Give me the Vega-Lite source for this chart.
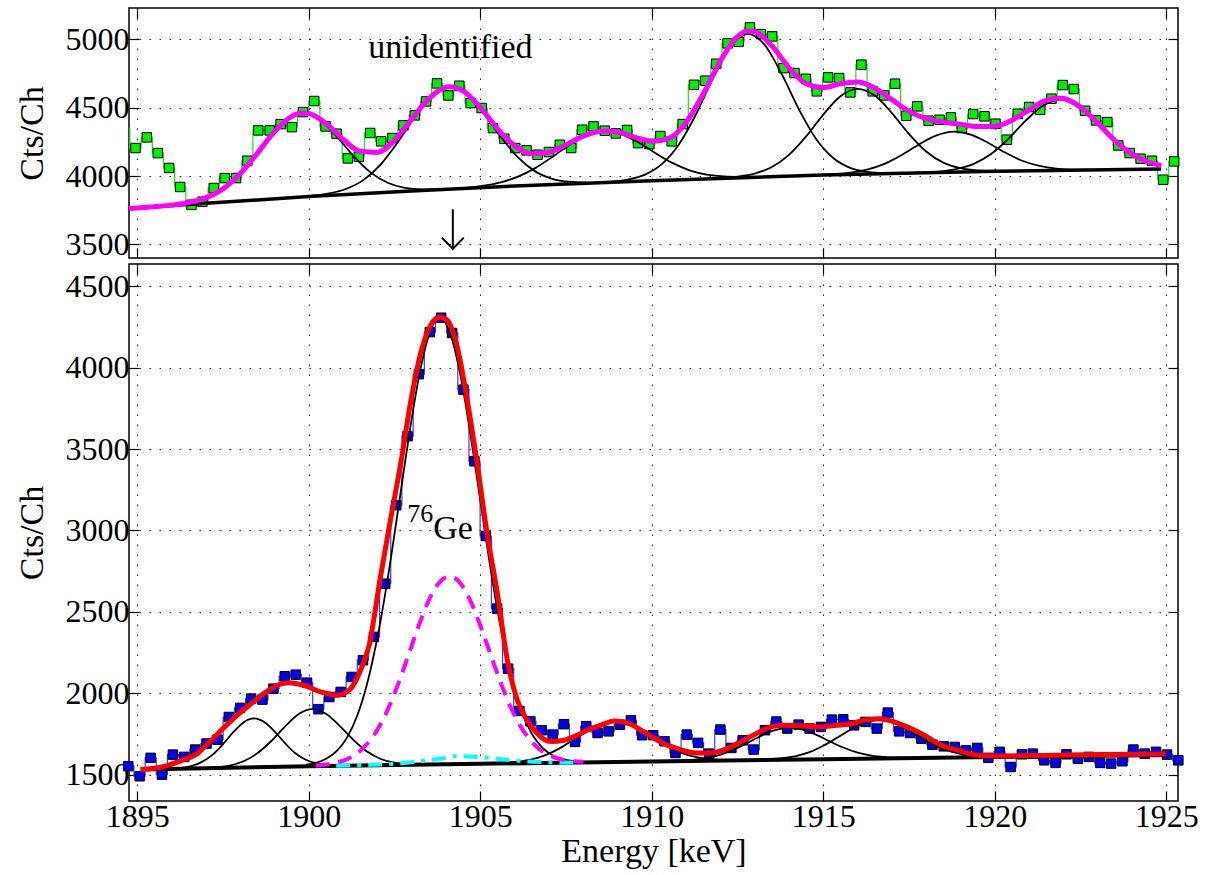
{
"$schema": "https://vega.github.io/schema/vega-lite/v6.json",
"background": "white",
"padding": {"left": 14, "top": 6, "right": 5, "bottom": 0},
"spacing": 0,
"datasets": {
"topPts": [
{"E":1894.62,"c":4350},{"E":1894.95,"c":4205},{"E":1895.28,"c":4283},{"E":1895.60,"c":4168},{"E":1895.93,"c":4059},{"E":1896.25,"c":3920},{"E":1896.58,"c":3790},{"E":1896.90,"c":3812},{"E":1897.23,"c":3912},{"E":1897.55,"c":3985},{"E":1897.88,"c":3985},{"E":1898.21,"c":4112},{"E":1898.53,"c":4334},{"E":1898.86,"c":4334},{"E":1899.18,"c":4380},{"E":1899.51,"c":4358},{"E":1899.83,"c":4468},{"E":1900.16,"c":4549},{"E":1900.49,"c":4363},{"E":1900.81,"c":4310},{"E":1901.14,"c":4129},{"E":1901.46,"c":4141},{"E":1901.79,"c":4315},{"E":1902.11,"c":4254},{"E":1902.44,"c":4278},{"E":1902.76,"c":4371},{"E":1903.09,"c":4444},{"E":1903.42,"c":4546},{"E":1903.74,"c":4678},{"E":1904.07,"c":4590},{"E":1904.39,"c":4661},{"E":1904.72,"c":4534},{"E":1905.04,"c":4498},{"E":1905.37,"c":4351},{"E":1905.70,"c":4273},{"E":1906.02,"c":4205},{"E":1906.35,"c":4188},{"E":1906.67,"c":4156},{"E":1907.00,"c":4176},{"E":1907.32,"c":4229},{"E":1907.65,"c":4205},{"E":1907.97,"c":4339},{"E":1908.30,"c":4363},{"E":1908.63,"c":4332},{"E":1908.95,"c":4312},{"E":1909.28,"c":4337},{"E":1909.60,"c":4241},{"E":1909.93,"c":4234},{"E":1910.25,"c":4293},{"E":1910.58,"c":4254},{"E":1910.90,"c":4380},{"E":1911.23,"c":4668},{"E":1911.56,"c":4698},{"E":1911.88,"c":4822},{"E":1912.21,"c":4971},{"E":1912.53,"c":4983},{"E":1912.86,"c":5088},{"E":1913.18,"c":5039},{"E":1913.51,"c":5022},{"E":1913.84,"c":4790},{"E":1914.16,"c":4754},{"E":1914.49,"c":4712},{"E":1914.81,"c":4620},{"E":1915.14,"c":4722},{"E":1915.46,"c":4717},{"E":1915.79,"c":4612},{"E":1916.11,"c":4815},{"E":1916.44,"c":4620},{"E":1916.77,"c":4590},{"E":1917.09,"c":4676},{"E":1917.42,"c":4441},{"E":1917.74,"c":4510},{"E":1918.07,"c":4405},{"E":1918.39,"c":4412},{"E":1918.72,"c":4429},{"E":1919.04,"c":4351},{"E":1919.37,"c":4454},{"E":1919.70,"c":4437},{"E":1920.02,"c":4383},{"E":1920.35,"c":4266},{"E":1920.67,"c":4456},{"E":1921.00,"c":4505},{"E":1921.32,"c":4485},{"E":1921.65,"c":4566},{"E":1921.98,"c":4666},{"E":1922.30,"c":4637},{"E":1922.63,"c":4478},{"E":1922.95,"c":4407},{"E":1923.28,"c":4395},{"E":1923.60,"c":4224},{"E":1923.93,"c":4168},{"E":1924.25,"c":4127},{"E":1924.58,"c":4112},{"E":1924.91,"c":3973},{"E":1925.23,"c":4107}
],
"topBase": [{"E":1894.76,"v":3762},{"E":1897,"v":3800},{"E":1900,"v":3850},{"E":1903,"v":3890},{"E":1906,"v":3927},{"E":1910,"v":3966},{"E":1915,"v":4008},{"E":1920,"v":4035},{"E":1924.85,"v":4052}],
"topFit": [
{"E":1894.76,"v":3762},{"E":1895.0,"v":3766},{"E":1895.5,"v":3776},{"E":1896.0,"v":3787},{"E":1896.5,"v":3806},{"E":1897.0,"v":3840},{"E":1897.5,"v":3906},{"E":1898.0,"v":4016},{"E":1898.5,"v":4166},{"E":1899.0,"v":4324},{"E":1899.5,"v":4437},{"E":1899.8,"v":4462},{"E":1900.0,"v":4458},{"E":1900.5,"v":4386},{"E":1901.0,"v":4270},{"E":1901.5,"v":4181},{"E":1902.0,"v":4173},{"E":1902.5,"v":4262},{"E":1903.0,"v":4416},{"E":1903.5,"v":4567},{"E":1904.0,"v":4650},{"E":1904.1,"v":4654},{"E":1904.5,"v":4623},{"E":1905.0,"v":4503},{"E":1905.5,"v":4347},{"E":1906.0,"v":4222},{"E":1906.5,"v":4163},{"E":1907.0,"v":4174},{"E":1907.5,"v":4229},{"E":1908.0,"v":4292},{"E":1908.5,"v":4328},{"E":1908.6,"v":4330},{"E":1909.0,"v":4322},{"E":1909.5,"v":4285},{"E":1910.0,"v":4254},{"E":1910.5,"v":4276},{"E":1911.0,"v":4392},{"E":1911.5,"v":4601},{"E":1912.0,"v":4842},{"E":1912.5,"v":5020},{"E":1912.8,"v":5061},{"E":1913.0,"v":5056},{"E":1913.5,"v":4953},{"E":1914.0,"v":4792},{"E":1914.5,"v":4676},{"E":1915.0,"v":4648},{"E":1915.5,"v":4675},{"E":1916.0,"v":4688},{"E":1916.5,"v":4645},{"E":1917.0,"v":4559},{"E":1917.5,"v":4473},{"E":1918.0,"v":4421},{"E":1918.5,"v":4395},{"E":1919.0,"v":4378},{"E":1919.5,"v":4362},{"E":1920.0,"v":4365},{"E":1920.5,"v":4409},{"E":1921.0,"v":4485},{"E":1921.5,"v":4554},{"E":1921.9,"v":4570},{"E":1922.0,"v":4567},{"E":1922.5,"v":4504},{"E":1923.0,"v":4387},{"E":1923.5,"v":4260},{"E":1924.0,"v":4161},{"E":1924.5,"v":4101},{"E":1924.85,"v":4077}
],
"topComp": [
{"k":"G1","E":1895.8,"v":3782},{"k":"G1","E":1896.3,"v":3797},{"k":"G1","E":1896.8,"v":3824},{"k":"G1","E":1897.3,"v":3875},{"k":"G1","E":1897.8,"v":3966},{"k":"G1","E":1898.3,"v":4103},{"k":"G1","E":1898.8,"v":4263},{"k":"G1","E":1899.3,"v":4400},{"k":"G1","E":1899.8,"v":4460},{"k":"G1","E":1900.3,"v":4416},{"k":"G1","E":1900.8,"v":4294},{"k":"G1","E":1901.3,"v":4148},{"k":"G1","E":1901.8,"v":4027},{"k":"G1","E":1902.3,"v":3951},{"k":"G1","E":1902.8,"v":3914},{"k":"G1","E":1903.3,"v":3903},{"k":"G1","E":1903.8,"v":3902},
{"k":"G2","E":1900.1,"v":3856},{"k":"G2","E":1900.6,"v":3873},{"k":"G2","E":1901.1,"v":3907},{"k":"G2","E":1901.6,"v":3972},{"k":"G2","E":1902.1,"v":4086},{"k":"G2","E":1902.6,"v":4249},{"k":"G2","E":1903.1,"v":4434},{"k":"G2","E":1903.6,"v":4587},{"k":"G2","E":1904.1,"v":4651},{"k":"G2","E":1904.6,"v":4599},{"k":"G2","E":1905.1,"v":4459},{"k":"G2","E":1905.6,"v":4286},{"k":"G2","E":1906.1,"v":4136},{"k":"G2","E":1906.6,"v":4034},{"k":"G2","E":1907.1,"v":3980},{"k":"G2","E":1907.6,"v":3958},{"k":"G2","E":1908.1,"v":3952},
{"k":"G3","E":1904.6,"v":3914},{"k":"G3","E":1905.1,"v":3929},{"k":"G3","E":1905.6,"v":3954},{"k":"G3","E":1906.1,"v":3996},{"k":"G3","E":1906.6,"v":4058},{"k":"G3","E":1907.1,"v":4140},{"k":"G3","E":1907.6,"v":4228},{"k":"G3","E":1908.1,"v":4297},{"k":"G3","E":1908.6,"v":4327},{"k":"G3","E":1909.1,"v":4307},{"k":"G3","E":1909.6,"v":4247},{"k":"G3","E":1910.1,"v":4169},{"k":"G3","E":1910.6,"v":4096},{"k":"G3","E":1911.1,"v":4042},{"k":"G3","E":1911.6,"v":4011},{"k":"G3","E":1912.1,"v":3997},{"k":"G3","E":1912.6,"v":3993},
{"k":"G4","E":1908.8,"v":3958},{"k":"G4","E":1909.3,"v":3974},{"k":"G4","E":1909.8,"v":4010},{"k":"G4","E":1910.3,"v":4089},{"k":"G4","E":1910.8,"v":4235},{"k":"G4","E":1911.3,"v":4458},{"k":"G4","E":1911.8,"v":4724},{"k":"G4","E":1912.3,"v":4949},{"k":"G4","E":1912.8,"v":5040},{"k":"G4","E":1913.3,"v":4957},{"k":"G4","E":1913.8,"v":4740},{"k":"G4","E":1914.3,"v":4483},{"k":"G4","E":1914.8,"v":4268},{"k":"G4","E":1915.3,"v":4130},{"k":"G4","E":1915.8,"v":4058},{"k":"G4","E":1916.3,"v":4030},{"k":"G4","E":1916.8,"v":4021},
{"k":"G5","E":1912.0,"v":3985},{"k":"G5","E":1912.5,"v":3996},{"k":"G5","E":1913.0,"v":4018},{"k":"G5","E":1913.5,"v":4066},{"k":"G5","E":1914.0,"v":4155},{"k":"G5","E":1914.5,"v":4290},{"k":"G5","E":1915.0,"v":4450},{"k":"G5","E":1915.5,"v":4584},{"k":"G5","E":1916.0,"v":4638},{"k":"G5","E":1916.5,"v":4589},{"k":"G5","E":1917.0,"v":4461},{"k":"G5","E":1917.5,"v":4307},{"k":"G5","E":1918.0,"v":4180},{"k":"G5","E":1918.5,"v":4098},{"k":"G5","E":1919.0,"v":4057},{"k":"G5","E":1919.5,"v":4041},{"k":"G5","E":1920.0,"v":4037},
{"k":"G6","E":1914.8,"v":4007},{"k":"G6","E":1915.3,"v":4014},{"k":"G6","E":1915.8,"v":4025},{"k":"G6","E":1916.3,"v":4049},{"k":"G6","E":1916.8,"v":4091},{"k":"G6","E":1917.3,"v":4156},{"k":"G6","E":1917.8,"v":4233},{"k":"G6","E":1918.3,"v":4297},{"k":"G6","E":1918.8,"v":4325},{"k":"G6","E":1919.3,"v":4303},{"k":"G6","E":1919.8,"v":4244},{"k":"G6","E":1920.3,"v":4172},{"k":"G6","E":1920.8,"v":4112},{"k":"G6","E":1921.3,"v":4074},{"k":"G6","E":1921.8,"v":4054},{"k":"G6","E":1922.3,"v":4047},{"k":"G6","E":1922.8,"v":4046},
{"k":"G7","E":1917.9,"v":4025},{"k":"G7","E":1918.4,"v":4033},{"k":"G7","E":1918.9,"v":4052},{"k":"G7","E":1919.4,"v":4091},{"k":"G7","E":1919.9,"v":4163},{"k":"G7","E":1920.4,"v":4273},{"k":"G7","E":1920.9,"v":4405},{"k":"G7","E":1921.4,"v":4515},{"k":"G7","E":1921.9,"v":4560},{"k":"G7","E":1922.4,"v":4519},{"k":"G7","E":1922.9,"v":4411},{"k":"G7","E":1923.4,"v":4284},{"k":"G7","E":1923.9,"v":4178},{"k":"G7","E":1924.4,"v":4109},{"k":"G7","E":1924.85,"v":4077}
],
"arrow": [{"p":"s","o":1,"E":1904.2,"v":3756},{"p":"s","o":2,"E":1904.2,"v":3470},{"p":"h","o":1,"E":1903.88,"v":3549},{"p":"h","o":2,"E":1904.2,"v":3468},{"p":"h","o":3,"E":1904.52,"v":3549}],
"botPts": [
{"E":1894.74,"c":1552},{"E":1895.07,"c":1490},{"E":1895.39,"c":1603},{"E":1895.72,"c":1500},{"E":1896.04,"c":1623},{"E":1896.37,"c":1609},{"E":1896.69,"c":1654},{"E":1897.02,"c":1691},{"E":1897.34,"c":1715},{"E":1897.67,"c":1854},{"E":1898.00,"c":1910},{"E":1898.32,"c":1967},{"E":1898.65,"c":1961},{"E":1898.97,"c":2028},{"E":1899.30,"c":2104},{"E":1899.62,"c":2114},{"E":1899.95,"c":2065},{"E":1900.28,"c":1902},{"E":1900.60,"c":1977},{"E":1900.93,"c":2008},{"E":1901.25,"c":2100},{"E":1901.58,"c":2203},{"E":1901.90,"c":2346},{"E":1902.23,"c":2673},{"E":1902.55,"c":3155},{"E":1902.88,"c":3579},{"E":1903.21,"c":3960},{"E":1903.53,"c":4219},{"E":1903.86,"c":4307},{"E":1904.18,"c":4213},{"E":1904.51,"c":3865},{"E":1904.83,"c":3425},{"E":1905.16,"c":2966},{"E":1905.49,"c":2520},{"E":1905.81,"c":2151},{"E":1906.14,"c":1891},{"E":1906.46,"c":1828},{"E":1906.79,"c":1773},{"E":1907.11,"c":1746},{"E":1907.44,"c":1810},{"E":1907.76,"c":1701},{"E":1908.09,"c":1797},{"E":1908.42,"c":1756},{"E":1908.74,"c":1766},{"E":1909.07,"c":1807},{"E":1909.39,"c":1834},{"E":1909.72,"c":1742},{"E":1910.04,"c":1742},{"E":1910.37,"c":1705},{"E":1910.69,"c":1633},{"E":1911.02,"c":1746},{"E":1911.35,"c":1695},{"E":1911.67,"c":1629},{"E":1912.00,"c":1777},{"E":1912.32,"c":1664},{"E":1912.65,"c":1711},{"E":1912.97,"c":1654},{"E":1913.30,"c":1773},{"E":1913.63,"c":1826},{"E":1913.95,"c":1783},{"E":1914.28,"c":1807},{"E":1914.60,"c":1783},{"E":1914.93,"c":1793},{"E":1915.25,"c":1838},{"E":1915.58,"c":1840},{"E":1915.90,"c":1803},{"E":1916.23,"c":1824},{"E":1916.56,"c":1783},{"E":1916.88,"c":1881},{"E":1917.21,"c":1766},{"E":1917.53,"c":1756},{"E":1917.86,"c":1721},{"E":1918.18,"c":1684},{"E":1918.51,"c":1674},{"E":1918.83,"c":1670},{"E":1919.16,"c":1650},{"E":1919.49,"c":1664},{"E":1919.81,"c":1603},{"E":1920.14,"c":1640},{"E":1920.46,"c":1547},{"E":1920.79,"c":1625},{"E":1921.11,"c":1629},{"E":1921.44,"c":1588},{"E":1921.77,"c":1572},{"E":1922.09,"c":1625},{"E":1922.42,"c":1598},{"E":1922.74,"c":1609},{"E":1923.07,"c":1572},{"E":1923.39,"c":1568},{"E":1923.72,"c":1582},{"E":1924.04,"c":1654},{"E":1924.37,"c":1629},{"E":1924.70,"c":1640},{"E":1925.02,"c":1623},{"E":1925.35,"c":1588}
],
"botBase": [{"E":1895.1,"v":1531},{"E":1900,"v":1552},{"E":1905,"v":1567},{"E":1910,"v":1580},{"E":1915,"v":1595},{"E":1920,"v":1609},{"E":1925,"v":1620}],
"botFit": [
{"E":1895.1,"v":1531},{"E":1895.78,"v":1550},{"E":1896.36,"v":1592},{"E":1896.75,"v":1629},{"E":1897.04,"v":1687},{"E":1897.67,"v":1818},{"E":1898.01,"v":1883},{"E":1898.32,"v":1936},{"E":1898.69,"v":1998},{"E":1899.08,"v":2049},{"E":1899.42,"v":2065},{"E":1899.86,"v":2049},{"E":1900.35,"v":2008},{"E":1900.83,"v":1988},{"E":1901.22,"v":2028},{"E":1901.51,"v":2141},{"E":1901.76,"v":2295},{"E":1902.09,"v":2714},{"E":1902.38,"v":3063},{"E":1902.68,"v":3410},{"E":1902.97,"v":3789},{"E":1903.26,"v":4086},{"E":1903.55,"v":4260},{"E":1903.82,"v":4311},{"E":1904.04,"v":4291},{"E":1904.33,"v":4127},{"E":1904.62,"v":3800},{"E":1904.91,"v":3410},{"E":1905.2,"v":2980},{"E":1905.5,"v":2612},{"E":1905.79,"v":2203},{"E":1906.08,"v":1957},{"E":1906.37,"v":1834},{"E":1906.66,"v":1752},{"E":1907.05,"v":1703},{"E":1907.44,"v":1711},{"E":1907.83,"v":1742},{"E":1908.12,"v":1773},{"E":1908.51,"v":1803},{"E":1908.9,"v":1830},{"E":1909.29,"v":1818},{"E":1909.77,"v":1762},{"E":1910.26,"v":1701},{"E":1910.74,"v":1660},{"E":1911.33,"v":1633},{"E":1911.71,"v":1633},{"E":1912.2,"v":1660},{"E":1912.68,"v":1711},{"E":1913.08,"v":1756},{"E":1913.46,"v":1793},{"E":1913.85,"v":1803},{"E":1914.34,"v":1801},{"E":1914.83,"v":1793},{"E":1915.31,"v":1801},{"E":1915.8,"v":1813},{"E":1916.28,"v":1838},{"E":1916.67,"v":1844},{"E":1917.06,"v":1824},{"E":1917.55,"v":1783},{"E":1918.03,"v":1732},{"E":1918.32,"v":1692},{"E":1918.91,"v":1650},{"E":1919.49,"v":1619},{"E":1920.07,"v":1615},{"E":1921.43,"v":1617},{"E":1922.89,"v":1623},{"E":1924.35,"v":1625},{"E":1924.98,"v":1628}
],
"botComp": [
{"k":"B1","E":1896.0,"v":1537},{"k":"B1","E":1896.3,"v":1542},{"k":"B1","E":1896.6,"v":1554},{"k":"B1","E":1896.9,"v":1580},{"k":"B1","E":1897.2,"v":1623},{"k":"B1","E":1897.5,"v":1687},{"k":"B1","E":1897.8,"v":1761},{"k":"B1","E":1898.1,"v":1821},{"k":"B1","E":1898.4,"v":1845},{"k":"B1","E":1898.7,"v":1823},{"k":"B1","E":1899.0,"v":1766},{"k":"B1","E":1899.3,"v":1695},{"k":"B1","E":1899.6,"v":1633},{"k":"B1","E":1899.9,"v":1593},{"k":"B1","E":1900.2,"v":1570},{"k":"B1","E":1900.5,"v":1560},{"k":"B1","E":1900.8,"v":1556},
{"k":"B2","E":1896.9,"v":1540},{"k":"B2","E":1897.3,"v":1545},{"k":"B2","E":1897.7,"v":1556},{"k":"B2","E":1898.1,"v":1582},{"k":"B2","E":1898.5,"v":1631},{"k":"B2","E":1898.9,"v":1705},{"k":"B2","E":1899.3,"v":1794},{"k":"B2","E":1899.7,"v":1871},{"k":"B2","E":1900.1,"v":1902},{"k":"B2","E":1900.5,"v":1874},{"k":"B2","E":1900.9,"v":1800},{"k":"B2","E":1901.3,"v":1714},{"k":"B2","E":1901.7,"v":1642},{"k":"B2","E":1902.1,"v":1596},{"k":"B2","E":1902.5,"v":1573},{"k":"B2","E":1902.9,"v":1565},{"k":"B2","E":1903.3,"v":1563},
{"k":"B3","E":1899.92,"v":1561},{"k":"B3","E":1900.22,"v":1573},{"k":"B3","E":1900.52,"v":1599},{"k":"B3","E":1900.82,"v":1646},{"k":"B3","E":1901.12,"v":1729},{"k":"B3","E":1901.42,"v":1866},{"k":"B3","E":1901.72,"v":2074},{"k":"B3","E":1902.02,"v":2363},{"k":"B3","E":1902.32,"v":2729},{"k":"B3","E":1902.62,"v":3150},{"k":"B3","E":1902.92,"v":3578},{"k":"B3","E":1903.22,"v":3953},{"k":"B3","E":1903.52,"v":4211},{"k":"B3","E":1903.82,"v":4304},{"k":"B3","E":1904.12,"v":4212},{"k":"B3","E":1904.42,"v":3956},{"k":"B3","E":1904.72,"v":3583},{"k":"B3","E":1905.02,"v":3157},{"k":"B3","E":1905.32,"v":2738},{"k":"B3","E":1905.62,"v":2374},{"k":"B3","E":1905.92,"v":2086},{"k":"B3","E":1906.22,"v":1880},{"k":"B3","E":1906.52,"v":1745},{"k":"B3","E":1906.82,"v":1663},{"k":"B3","E":1907.12,"v":1618},{"k":"B3","E":1907.42,"v":1593},{"k":"B3","E":1907.72,"v":1583},
{"k":"B4","E":1905.3,"v":1569},{"k":"B4","E":1905.7,"v":1572},{"k":"B4","E":1906.1,"v":1580},{"k":"B4","E":1906.5,"v":1594},{"k":"B4","E":1906.9,"v":1620},{"k":"B4","E":1907.3,"v":1660},{"k":"B4","E":1907.7,"v":1712},{"k":"B4","E":1908.1,"v":1767},{"k":"B4","E":1908.5,"v":1810},{"k":"B4","E":1908.9,"v":1827},{"k":"B4","E":1909.3,"v":1812},{"k":"B4","E":1909.7,"v":1771},{"k":"B4","E":1910.1,"v":1718},{"k":"B4","E":1910.5,"v":1668},{"k":"B4","E":1910.9,"v":1631},{"k":"B4","E":1911.3,"v":1607},{"k":"B4","E":1911.7,"v":1595},{"k":"B4","E":1912.1,"v":1590},{"k":"B4","E":1912.5,"v":1589},
{"k":"B5","E":1910.4,"v":1582},{"k":"B5","E":1910.8,"v":1585},{"k":"B5","E":1911.2,"v":1591},{"k":"B5","E":1911.6,"v":1602},{"k":"B5","E":1912.0,"v":1623},{"k":"B5","E":1912.4,"v":1655},{"k":"B5","E":1912.8,"v":1696},{"k":"B5","E":1913.2,"v":1740},{"k":"B5","E":1913.6,"v":1773},{"k":"B5","E":1914.0,"v":1787},{"k":"B5","E":1914.4,"v":1776},{"k":"B5","E":1914.8,"v":1744},{"k":"B5","E":1915.2,"v":1703},{"k":"B5","E":1915.6,"v":1665},{"k":"B5","E":1916.0,"v":1635},{"k":"B5","E":1916.4,"v":1617},{"k":"B5","E":1916.8,"v":1608},{"k":"B5","E":1917.2,"v":1604},{"k":"B5","E":1917.6,"v":1603},
{"k":"B6","E":1913.0,"v":1590},{"k":"B6","E":1913.4,"v":1594},{"k":"B6","E":1913.8,"v":1601},{"k":"B6","E":1914.2,"v":1614},{"k":"B6","E":1914.6,"v":1638},{"k":"B6","E":1915.0,"v":1677},{"k":"B6","E":1915.4,"v":1726},{"k":"B6","E":1915.8,"v":1777},{"k":"B6","E":1916.2,"v":1818},{"k":"B6","E":1916.6,"v":1835},{"k":"B6","E":1917.0,"v":1821},{"k":"B6","E":1917.4,"v":1782},{"k":"B6","E":1917.8,"v":1733},{"k":"B6","E":1918.2,"v":1686},{"k":"B6","E":1918.6,"v":1650},{"k":"B6","E":1919.0,"v":1628},{"k":"B6","E":1919.4,"v":1616},{"k":"B6","E":1919.8,"v":1612},{"k":"B6","E":1920.2,"v":1610}
],
"botMag": [
{"E":1900.2,"v":1556},{"E":1900.5,"v":1562},{"E":1900.8,"v":1573},{"E":1901.1,"v":1593},{"E":1901.4,"v":1629},{"E":1901.7,"v":1688},{"E":1902.0,"v":1776},{"E":1902.3,"v":1898},{"E":1902.6,"v":2053},{"E":1902.9,"v":2231},{"E":1903.2,"v":2412},{"E":1903.5,"v":2571},{"E":1903.8,"v":2679},{"E":1904.1,"v":2719},{"E":1904.4,"v":2681},{"E":1904.7,"v":2574},{"E":1905.0,"v":2417},{"E":1905.3,"v":2238},{"E":1905.6,"v":2062},{"E":1905.9,"v":1908},{"E":1906.2,"v":1788},{"E":1906.5,"v":1702},{"E":1906.8,"v":1645},{"E":1907.1,"v":1611},{"E":1907.4,"v":1592},{"E":1907.7,"v":1583},{"E":1908.0,"v":1579}
],
"botCyan": [
{"E":1900.8,"v":1555},{"E":1901.3,"v":1558},{"E":1901.8,"v":1560},{"E":1902.3,"v":1564},{"E":1902.8,"v":1572},{"E":1903.3,"v":1584},{"E":1903.8,"v":1597},{"E":1904.3,"v":1613},{"E":1904.8,"v":1610},{"E":1905.3,"v":1602},{"E":1905.8,"v":1591},{"E":1906.3,"v":1582},{"E":1906.8,"v":1577},{"E":1907.3,"v":1575},{"E":1907.8,"v":1575}
]
},
"vconcat": [
{
"width": 1049, "height": 250,
"resolve": {"axis": {"x": "independent", "y": "independent"}},
"layer": [
{"data": {"name": "topPts"},
 "mark": {"type": "line", "interpolate": "step", "color": "#22dd22", "strokeWidth": 1.2, "clip": true},
 "encoding": {
  "x": {"field": "E", "type": "quantitative", "scale": {"domain": [1894.76, 1925.34], "nice": false, "zero": false},
        "axis": {"orient": "bottom", "values": [1895,1900,1905,1910,1915,1920,1925], "labels": false, "title": null, "grid": true}},
  "y": {"field": "c", "type": "quantitative", "scale": {"domain": [3400, 5230], "nice": false, "zero": false},
        "axis": {"orient": "left", "values": [3500,4000,4500,5000], "format": "d", "title": "Cts/Ch", "grid": true,
                 "labelFont": "Liberation Serif", "labelFontSize": 32, "titleFont": "Liberation Serif", "titleFontSize": 34}}
 }},
{"data": {"name": "topPts"}, "transform": [{"filter": "datum.E > 1894.7"}],
 "mark": {"type": "square", "size": 90, "filled": true, "color": "#00ee00", "stroke": "#000", "strokeWidth": 1, "opacity": 1},
 "encoding": {
  "x": {"field": "E", "type": "quantitative", "axis": {"orient": "top", "values": [1895,1900,1905,1910,1915,1920,1925], "labels": false, "title": null, "grid": false}},
  "y": {"field": "c", "type": "quantitative", "axis": {"orient": "right", "values": [3500,4000,4500,5000], "labels": false, "title": null, "grid": false}}
 }},
{"data": {"name": "topBase"},
 "mark": {"type": "line", "color": "#000", "strokeWidth": 3.5},
 "encoding": {"x": {"field": "E", "type": "quantitative", "axis": null}, "y": {"field": "v", "type": "quantitative", "axis": null}}},
{"data": {"name": "topComp"},
 "mark": {"type": "line", "color": "#000", "strokeWidth": 1.8, "interpolate": "monotone"},
 "encoding": {"x": {"field": "E", "type": "quantitative", "axis": null}, "y": {"field": "v", "type": "quantitative", "axis": null}, "detail": {"field": "k"}}},
{"data": {"name": "topFit"},
 "mark": {"type": "line", "color": "#ff00ff", "strokeWidth": 5, "interpolate": "monotone"},
 "encoding": {"x": {"field": "E", "type": "quantitative", "axis": null}, "y": {"field": "v", "type": "quantitative", "axis": null}}},
{"data": {"values": [{"E": 1904.13, "v": 4863, "t": "unidentified"}]},
 "mark": {"type": "text", "font": "Liberation Serif", "fontSize": 34, "align": "center", "baseline": "alphabetic", "color": "#000"},
 "encoding": {"x": {"field": "E", "type": "quantitative", "axis": null}, "y": {"field": "v", "type": "quantitative", "axis": null}, "text": {"field": "t"}}},
{"data": {"name": "arrow"},
 "mark": {"type": "line", "color": "#000", "strokeWidth": 2},
 "encoding": {"x": {"field": "E", "type": "quantitative", "axis": null}, "y": {"field": "v", "type": "quantitative", "axis": null}, "detail": {"field": "p"}, "order": {"field": "o"}}}
]
},
{
"width": 1049, "height": 537,
"resolve": {"axis": {"x": "independent", "y": "independent"}},
"layer": [
{"data": {"name": "botPts"},
 "mark": {"type": "line", "interpolate": "step", "color": "#3a3aff", "strokeWidth": 1.2},
 "encoding": {
  "x": {"field": "E", "type": "quantitative", "scale": {"domain": [1894.76, 1925.34], "nice": false, "zero": false},
        "axis": {"orient": "bottom", "values": [1895,1900,1905,1910,1915,1920,1925], "format": "d", "title": "Energy [keV]", "grid": true, "titlePadding": 2,
                 "labelFont": "Liberation Serif", "labelFontSize": 32, "titleFont": "Liberation Serif", "titleFontSize": 34}},
  "y": {"field": "c", "type": "quantitative", "scale": {"domain": [1338, 4637], "nice": false, "zero": false},
        "axis": {"orient": "left", "values": [1500,2000,2500,3000,3500,4000,4500], "format": "d", "title": "Cts/Ch", "grid": true,
                 "labelFont": "Liberation Serif", "labelFontSize": 32, "titleFont": "Liberation Serif", "titleFontSize": 34}}
 }},
{"data": {"name": "botPts"},
 "mark": {"type": "square", "size": 90, "filled": true, "color": "#0000f0", "stroke": "#000", "strokeWidth": 1, "opacity": 1},
 "encoding": {
  "x": {"field": "E", "type": "quantitative", "axis": {"orient": "top", "values": [1895,1900,1905,1910,1915,1920,1925], "labels": false, "title": null, "grid": false}},
  "y": {"field": "c", "type": "quantitative", "axis": {"orient": "right", "values": [1500,2000,2500,3000,3500,4000,4500], "labels": false, "title": null, "grid": false}}
 }},
{"data": {"name": "botBase"},
 "mark": {"type": "line", "color": "#000", "strokeWidth": 4},
 "encoding": {"x": {"field": "E", "type": "quantitative", "axis": null}, "y": {"field": "v", "type": "quantitative", "axis": null}}},
{"data": {"name": "botComp"},
 "mark": {"type": "line", "color": "#000", "strokeWidth": 1.8, "interpolate": "monotone"},
 "encoding": {"x": {"field": "E", "type": "quantitative", "axis": null}, "y": {"field": "v", "type": "quantitative", "axis": null}, "detail": {"field": "k"}}},
{"data": {"name": "botCyan"},
 "mark": {"type": "line", "color": "#00ffff", "strokeWidth": 4, "strokeDash": [14, 7, 4, 7], "interpolate": "monotone"},
 "encoding": {"x": {"field": "E", "type": "quantitative", "axis": null}, "y": {"field": "v", "type": "quantitative", "axis": null}}},
{"data": {"name": "botMag"},
 "mark": {"type": "line", "color": "#ff00ff", "strokeWidth": 4, "strokeDash": [14, 9], "interpolate": "monotone"},
 "encoding": {"x": {"field": "E", "type": "quantitative", "axis": null}, "y": {"field": "v", "type": "quantitative", "axis": null}}},
{"data": {"name": "botFit"},
 "mark": {"type": "line", "color": "#ff0000", "strokeWidth": 5, "interpolate": "monotone"},
 "encoding": {"x": {"field": "E", "type": "quantitative", "axis": null}, "y": {"field": "v", "type": "quantitative", "axis": null}}},
{"data": {"values": [{"E": 1902.87, "v": 3052, "t": "76"}]},
 "mark": {"type": "text", "font": "Liberation Serif", "fontSize": 26, "align": "left", "baseline": "alphabetic", "color": "#000"},
 "encoding": {"x": {"field": "E", "type": "quantitative", "axis": null}, "y": {"field": "v", "type": "quantitative", "axis": null}, "text": {"field": "t"}}},
{"data": {"values": [{"E": 1903.63, "v": 2946, "t": "Ge"}]},
 "mark": {"type": "text", "font": "Liberation Serif", "fontSize": 34, "align": "left", "baseline": "alphabetic", "color": "#000"},
 "encoding": {"x": {"field": "E", "type": "quantitative", "axis": null}, "y": {"field": "v", "type": "quantitative", "axis": null}, "text": {"field": "t"}}}
]
}
],
"config": {
 "font": "Liberation Serif",
 "view": {"stroke": "#000", "strokeWidth": 1.5},
 "axis": {
  "domain": false,
  "tickSize": -10, "tickColor": "#000", "tickWidth": 1.2,
  "labelFont": "Liberation Serif", "labelFontSize": 32, "labelColor": "#000", "labelPadding": 10,
  "labelFlush": false, "labelOverlap": false,
  "titleFont": "Liberation Serif", "titleFontSize": 34, "titleFontWeight": "normal", "titleColor": "#000", "titlePadding": 16,
  "gridColor": "#000", "gridDash": [1.5, 8.5], "gridWidth": 1, "gridOpacity": 0.85
 }
}
}
